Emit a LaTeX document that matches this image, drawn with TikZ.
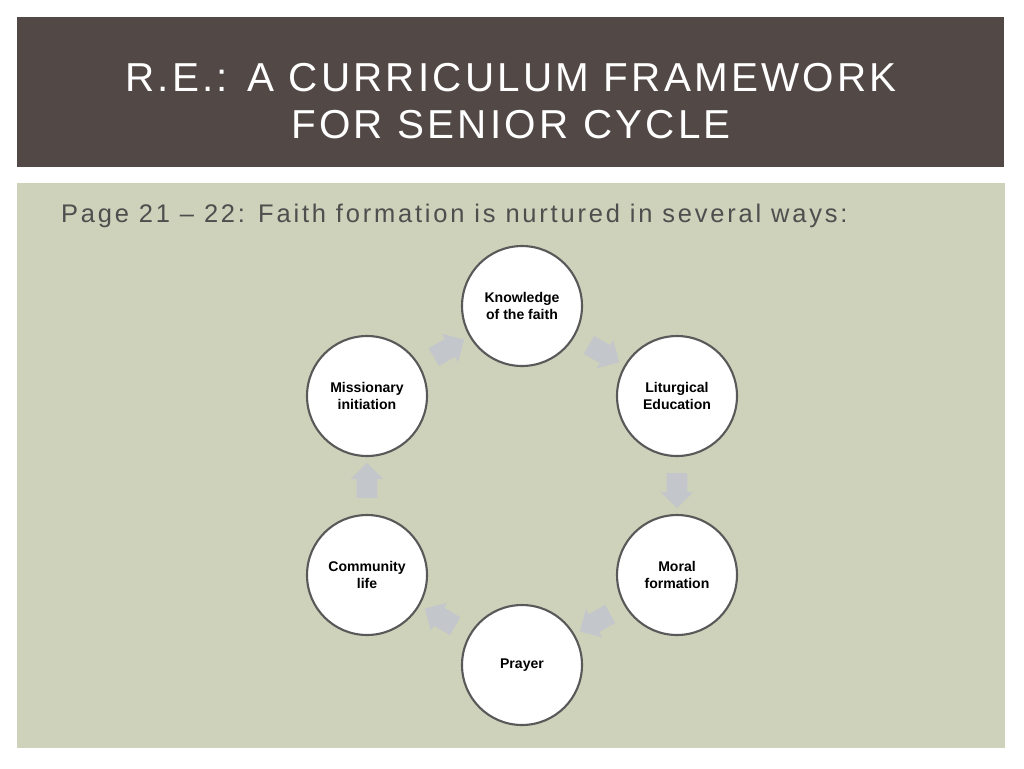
\documentclass[tikz,border=0pt]{standalone}
\usepackage{fontspec}
\setmainfont{Liberation Sans}
\newfontfamily\spaced[LetterSpace=8]{Liberation Sans}
\newfontfamily\wide[LetterSpace=11]{Liberation Sans}
\usetikzlibrary{calc,shapes.arrows}
\definecolor{titlebg}{HTML}{524845}
\definecolor{panelbg}{HTML}{CED2BA}
\definecolor{subtext}{HTML}{4E4E4E}
\definecolor{arrowgray}{HTML}{C3C6CB}
\begin{document}
\begin{tikzpicture}[
x=0.02cm,y=-0.02cm,
Step/.style={circle,draw=black!65,line width=1.2pt,fill=white,minimum size=2.4cm,align=center,font=\footnotesize\bfseries},
Flow/.style={single arrow,fill=arrowgray,minimum height=0.7cm,inner xsep=0pt,inner ysep=0.2cm,single arrow head extend=0.12cm}
]

\useasboundingbox (0,0) rectangle (1024,768);
\fill[white] (0,0) rectangle (1024,768);
\fill[titlebg] (17,17) rectangle (1004,167);
\fill[panelbg] (17,183) rectangle (1005,748);

\node[white,font=\spaced\fontsize{23}{27}\selectfont,align=center] (title) at (511,101) {R.E.: A CURRICULUM FRAMEWORK\\FOR SENIOR CYCLE};
\node[subtext,font=\wide\fontsize{14.5}{16}\selectfont,anchor=west] (sub) at (55,216) {Page 21 – 22: Faith formation is nurtured in several ways:};

% the six steps
\node[Step] (know) at (522,306) {Knowledge\\of the faith};
\node[Step] (litu) at (677,396) {Liturgical\\Education};
\node[Step] (moral) at (677,575) {Moral\\formation};
\node[Step] (pray) at (522,665) {Prayer};
\node[Step] (comm) at (367,575) {Community\\life};
\node[Step] (miss) at (367,396) {Missionary\\initiation};

% block arrows between them
\node[Flow,rotate=-30] at ($(know)!0.5!(litu)$) {};
\node[Flow,rotate=-90] at ($(litu)!0.5!(moral)$) {};
\node[Flow,rotate=-150] at ($(moral)!0.5!(pray)$) {};
\node[Flow,rotate=150] at ($(pray)!0.5!(comm)$) {};
\node[Flow,rotate=90] at ($(comm)!0.5!(miss)$) {};
\node[Flow,rotate=30] at ($(miss)!0.5!(know)$) {};

\end{tikzpicture}
\end{document}
